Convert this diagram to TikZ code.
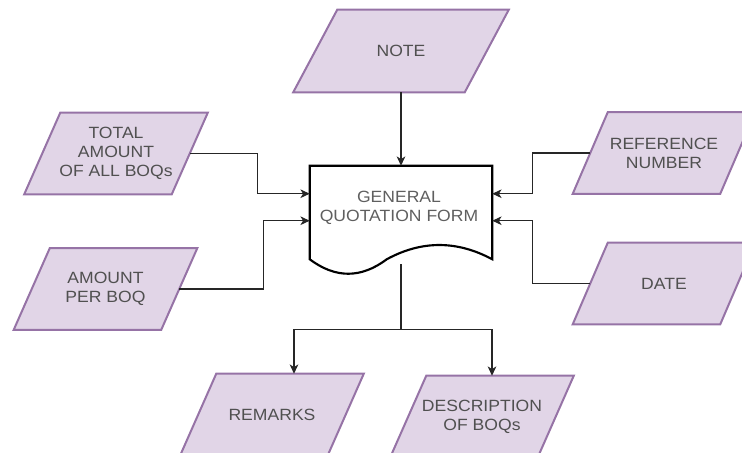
\documentclass[tikz,border=0pt]{standalone}
\usepackage{fontspec}
\setmainfont{Liberation Sans}[FakeStretch=1.08]
\usetikzlibrary{calc,arrows.meta}

\definecolor{iofill}{HTML}{E1D5E7}
\definecolor{iodraw}{HTML}{9673A6}
\definecolor{iotext}{HTML}{505050}
\definecolor{doctext}{HTML}{5F5F5F}

\pgfdeclarelayer{bg}
\pgfsetlayers{bg,main}

\tikzset{
  iobox/.style={fill=iofill, draw=iodraw, line width=1.5pt, line join=miter},
  io/.style={inner sep=0pt, align=center, text=iotext,
    font=\fontsize{12.2}{14.3}\selectfont,
    minimum width=110.25pt, minimum height=60.75pt},
  bigio/.style={io, minimum width=128.25pt, minimum height=61.5pt},
  docnode/.style={inner sep=0pt, minimum width=136.5pt, minimum height=69.75pt},
  docline/.style={draw=black, line width=1.6pt, line join=miter},
  doclabel/.style={inner sep=0pt, align=center, text=doctext,
    font=\fontsize{12.2}{14.3}\selectfont},
  wire/.style={draw=black!85, line width=0.9pt},
  conn/.style={wire, -{Stealth[length=7pt, width=6.5pt, inset=2pt]}},
}

% slanted data box behind node #2, top edge shifted right by #1 (px units)
\newcommand\iooutline[2][36]{%
  \begin{pgfonlayer}{bg}
    \draw[iobox] ($(#2.south west)+(-#1/2,0)$) -- ($(#2.south east)+(-#1/2,0)$)
      -- ($(#2.north east)+(#1/2,0)$) -- ($(#2.north west)+(#1/2,0)$) -- cycle;
  \end{pgfonlayer}}

\begin{document}
\begin{tikzpicture}[x=0.75pt, y=-0.75pt]
  \useasboundingbox (0,0) rectangle (742,453);

  % data boxes
  \node[bigio] (note) at (401,51) {NOTE};
  \iooutline[44]{note}
  \node[io] (total) at (116,153.5) {TOTAL\\AMOUNT\\OF ALL BOQs};
  \iooutline{total}
  \node[io] (amount) at (105.5,289) {AMOUNT\\PER BOQ};
  \iooutline{amount}
  \node[io] (ref) at (664,153) {REFERENCE\\NUMBER};
  \iooutline[35]{ref}
  \node[io] (date) at (664,283.5) {DATE};
  \iooutline[35]{date}
  \node[io] (remarks) at (272,414.5) {REMARKS};
  \iooutline{remarks}
  \node[io] (desc) at (482,416.5) {DESCRIPTION\\OF BOQs};
  \iooutline{desc}

  % document shape with wavy bottom
  \node[docnode] (doc) at (401,212.5) {};
  \draw[docline] (doc.south west) -- (doc.north west) -- (doc.north east)
    -- (doc.south east)
    .. controls ($(doc.south west)+(147,-19)$) and ($(doc.south west)+(112,-19)$) .. ($(doc.south west)+(77,0)$)
    .. controls ($(doc.south west)+(51.3,19.3)$) and ($(doc.south west)+(25.7,19.3)$) .. (doc.south west) -- cycle;
  \node[doclabel] (doctitle) at (399,208) {GENERAL\\QUOTATION FORM};

  % entry points on the document sides
  \coordinate (docL1) at ($(doc.north west)+(0,28)$);
  \coordinate (docL2) at ($(doc.north west)+(0,55)$);
  \coordinate (docR1) at ($(doc.north east)+(0,28)$);
  \coordinate (docR2) at ($(doc.north east)+(0,55)$);
  \coordinate (docB) at ($(doc.south)+(0,5)$);
  \coordinate (split) at ($(doc.south)+(0,70)$);

  % connectors
  \draw[conn] (note.south) -- (doc.north);
  \draw[conn] (total.east) -| ($(docL1)+(-52,0)$) -- (docL1);
  \draw[conn] (amount.east) -| ($(docL2)+(-46,0)$) -- (docL2);
  \draw[conn] (ref.west) -| ($(docR1)+(40,0)$) -- (docR1);
  \draw[conn] (date.west) -| ($(docR2)+(40,0)$) -- (docR2);
  \draw[wire] (docB) -- (split);
  \draw[conn] (split) -| ($(remarks.north)+(22,0)$);
  \draw[conn] (split) -| ($(desc.north)+(10,0)$);
\end{tikzpicture}
\end{document}
